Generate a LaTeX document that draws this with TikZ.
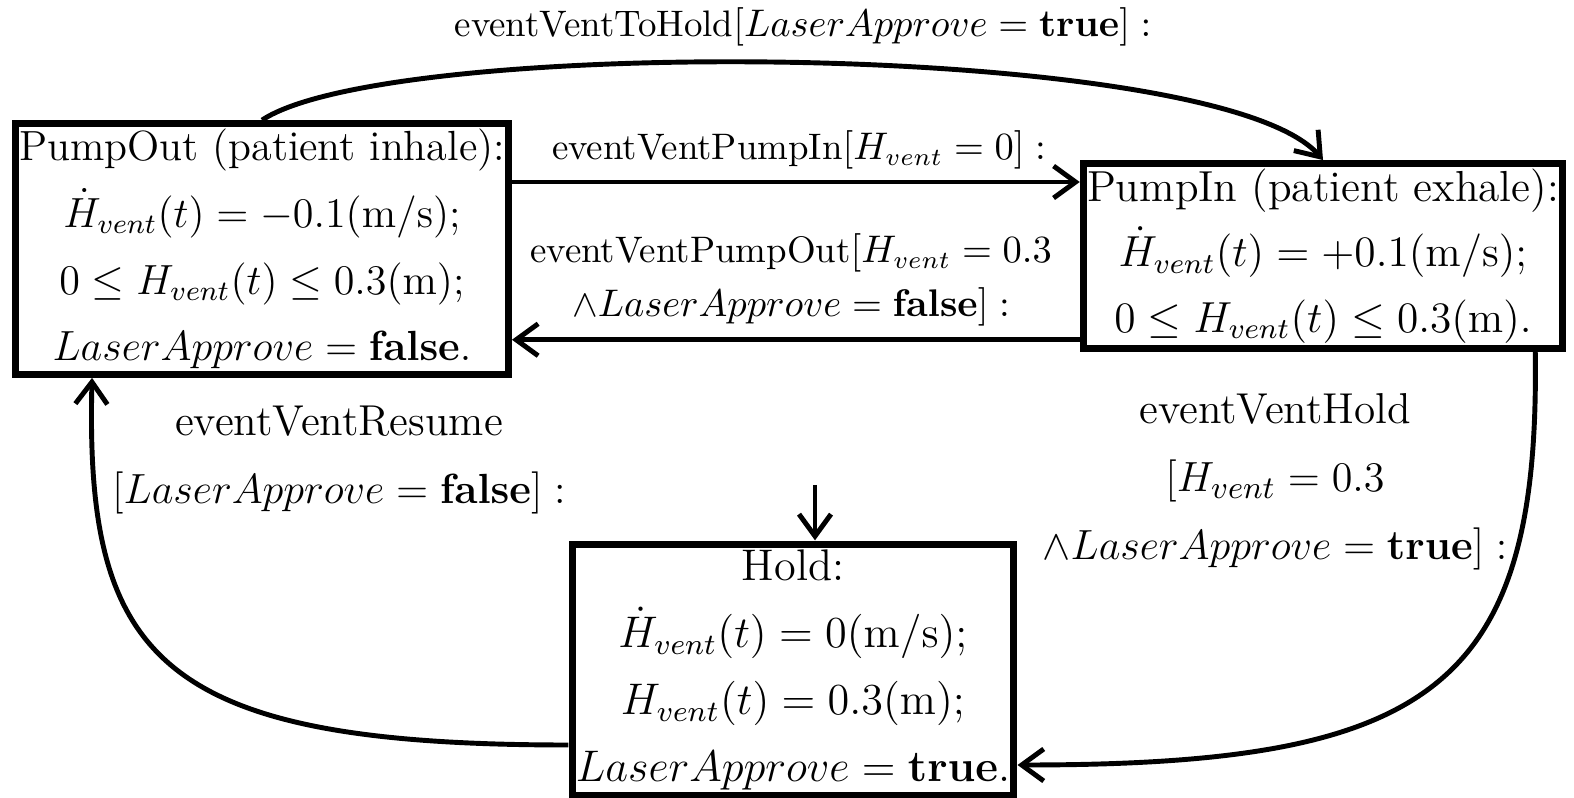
\documentclass[tikz,border=0pt]{standalone}
\usepackage{amsmath,amssymb}
\usepackage{tikz}
\usetikzlibrary{calc}
\usetikzlibrary{arrows.meta}

\begin{document}
\begin{tikzpicture}
% % State style
 \tikzset{
 	state/.style={draw, line width=2pt, align=center, inner xsep=1pt, inner ysep=1.5pt, font=\fontsize{12}{19}\selectfont},
 	guard/.style={align=center, font=\fontsize{10.5}{15.5}\selectfont},
 	sideguard/.style={align=center, font=\fontsize{12.3}{19.4}\selectfont},
 	trans/.style={line width=1.4pt, -{Straight Barb[length=2.2mm,width=3.2mm]}}
 }
 \useasboundingbox (0,0) rectangle (15.74,-7.98);
% % States
 \node[state] (pumpout) at (2.62,-2.49) {PumpOut (patient inhale):\\
   $\dot{H}_{vent}(t)=-0.1(\mathrm{m/s});$\\
   $0\leq H_{vent}(t)\leq 0.3(\mathrm{m});$\\
   $LaserApprove=\mathbf{false}.$};
 \node[state, transform shape, scale=1.03, font=\fontsize{12}{18}\selectfont] (pumpin) at (13.23,-2.56) {PumpIn (patient exhale):\\
   $\dot{H}_{vent}(t)=+0.1(\mathrm{m/s});$\\
   $0\leq H_{vent}(t)\leq 0.3(\mathrm{m}).$};
 \node[state, transform shape, scale=1.05, font=\fontsize{12}{18.2}\selectfont] (hold) at (7.93,-6.70) {Hold:\\
   $\dot{H}_{vent}(t)=0(\mathrm{m/s});$\\
   $H_{vent}(t)=0.3(\mathrm{m});$\\
   $LaserApprove=\mathbf{true}.$};
 % transitions here
 \draw[trans] (pumpout.15) -- (pumpout.15 -| pumpin.west);
 \draw[trans] (pumpin.-161) -- (pumpin.-161 -| pumpout.east);
 \draw[trans] (pumpout.north) .. controls (3.9,-0.35) and (12.2,-0.4) .. (pumpin.north);
 \draw[trans] ([xshift=-0.31cm]pumpin.south east) .. controls (15.4,-6.9) and (14.3,-7.65) .. ([yshift=-0.95cm]hold.east);
 \draw[trans] ([yshift=-0.75cm]hold.west) .. controls (1.6,-7.45) and (0.85,-6.6) .. ([xshift=0.8cm]pumpout.south west);
 \coordinate (init) at (8.15,-4.85);
 \draw[trans] (init) -- (init |- hold.north);
 % guards
 \node[guard] (toholdlabel) at (8.03,-0.27) {eventVentToHold$[LaserApprove=\mathbf{true}]:$};
 \node[guard] (pumpinlabel) at (7.99,-1.50) {eventVentPumpIn$[H_{vent}=0]:$};
 \node[guard] (pumpoutlabel) at (7.91,-2.80) {eventVentPumpOut$[H_{vent}=0.3$\\ $\wedge LaserApprove=\mathbf{false}]:$};
 \node[sideguard] (holdlabel) at (12.75,-4.82) {eventVentHold\\ $[H_{vent}=0.3$\\ $\wedge LaserApprove=\mathbf{true}]:$};
 \node[sideguard] (resumelabel) at (3.39,-4.60) {eventVentResume\\ $[LaserApprove=\mathbf{false}]:$};
\end{tikzpicture}
\end{document}
